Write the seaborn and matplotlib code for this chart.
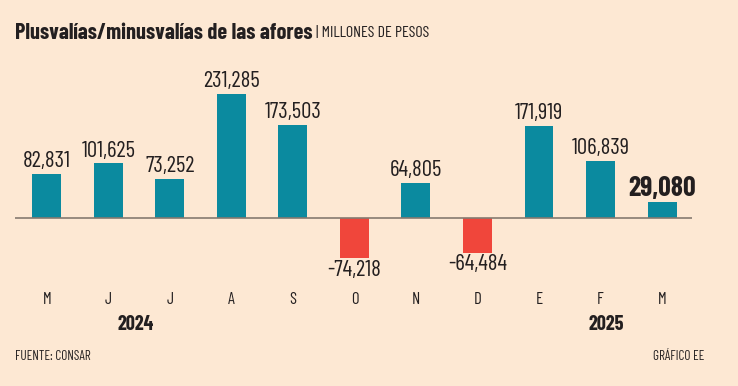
import matplotlib.pyplot as plt
import matplotlib.transforms as mtransforms
import seaborn as sns
import pandas as pd

periodos = ["may-24", "jun-24", "jul-24", "ago-24", "sep-24", "oct-24",
            "nov-24", "dic-24", "ene-25", "feb-25", "mar-25"]
letras = ["M", "J", "J", "A", "S", "O", "N", "D", "E", "F", "M"]
valores = [82831, 101625, 73252, 231285, 173503, -74218,
           64805, -64484, 171919, 106839, 29080]
anios = ["2024", "2025"]
pos_anios = [1.45, 9.1]

fondo = "#FDE8D3"
azul = "#0B8A9F"
rojo = "#F0463B"
texto = "#231F20"

df = pd.DataFrame({"periodo": periodos, "valor": valores})
df["signo"] = ["pos" if v >= 0 else "neg" for v in valores]

sns.set_theme(style="white")
plt.rcParams["font.family"] = ["Barlow Condensed", "Liberation Sans Narrow", "DejaVu Sans"]

fig = plt.figure(figsize=(7.38, 3.86), dpi=100, facecolor=fondo)
ax = fig.add_axes([0.02, 1 - 270 / 386, 0.918, 200 / 386])
ax.set_facecolor(fondo)

sns.barplot(data=df, x="periodo", y="valor", hue="signo", order=periodos,
            palette={"pos": azul, "neg": rojo}, width=0.47, dodge=False,
            legend=False, ax=ax, saturation=1, linewidth=0)

ax.set_xlim(-0.52, 10.49)
ax.set_ylim(-97000, 276000)
ax.axhline(0, color="#857A70", lw=1.2, zorder=5)
for s in ax.spines.values():
    s.set_visible(False)
ax.set_yticks([])
ax.set_xticks([])
ax.set_xlabel("")
ax.set_ylabel("")

# x en datos, y en fracción de figura
mix = mtransforms.blended_transform_factory(ax.transData, fig.transFigure)

for i, v in enumerate(valores):
    etiqueta = f"{v:,}"
    if i == len(valores) - 1:
        ax.text(i, v + 3500, etiqueta, ha="center", va="bottom", fontsize=20,
                fontweight="bold", color=texto)
    elif v >= 0:
        ax.text(i, v + 3500, etiqueta, ha="center", va="bottom", fontsize=16.5,
                color=texto)
    else:
        ax.text(i, v - 3500, etiqueta, ha="center", va="top", fontsize=16.5,
                color=texto)

for i, l in enumerate(letras):
    ax.text(i, 1 - 299 / 386, l, ha="center", va="center", fontsize=12,
            color=texto, transform=mix)

for a, p in zip(anios, pos_anios):
    ax.text(p, 1 - 325 / 386, a, ha="center", va="center", fontsize=14.5,
            fontweight="bold", color=texto, transform=mix)

titulo = fig.text(15 / 738, 1 - 33 / 386, "Plusvalías/minusvalías de las afores",
                  fontsize=16, fontweight="bold", color=texto, va="center", ha="left")
fig.canvas.draw()
caja = titulo.get_window_extent()
fig.text((caja.x1 + 4) / 738, 1 - 33 / 386, "| MILLONES DE PESOS", fontsize=11.5,
         color=texto, va="center", ha="left")
fig.text(15 / 738, 1 - 356 / 386, "FUENTE: CONSAR", fontsize=9.5, color=texto,
         va="center", ha="left")
fig.text(704 / 738, 1 - 356 / 386, "GRÁFICO EE", fontsize=9.5, color=texto,
         va="center", ha="right")

fig.savefig("out.png", dpi=100, facecolor=fondo)
